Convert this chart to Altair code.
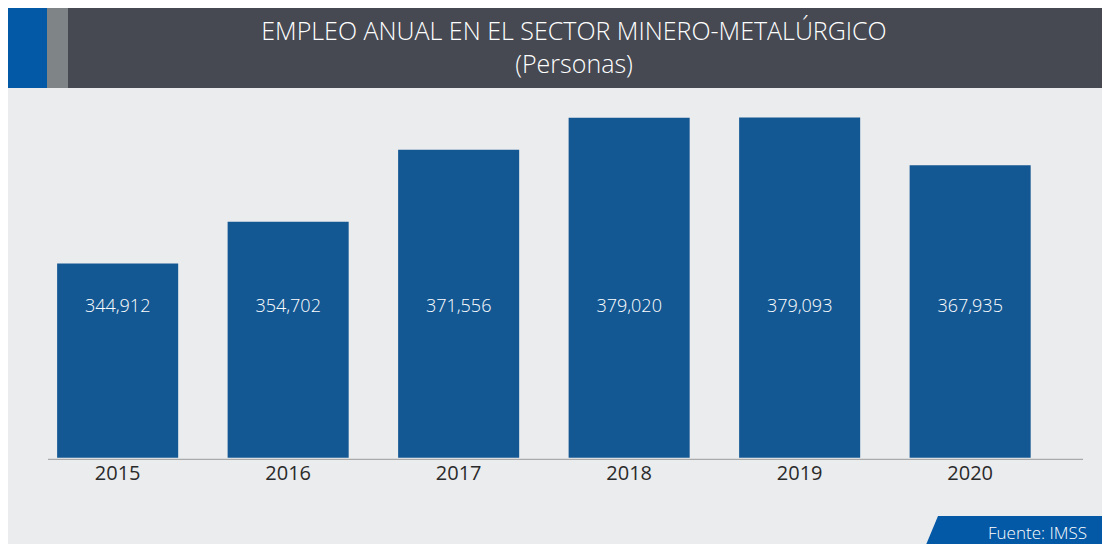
import altair as alt
import pandas as pd

# ---- data ----
years = ["2015", "2016", "2017", "2018", "2019", "2020"]
empleo = [344912, 354702, 371556, 379020, 379093, 367935]
title_line1 = "EMPLEO ANUAL EN EL SECTOR MINERO-METALÚRGICO"
title_line2 = "(Personas)"
source_text = "Fuente: IMSS"
y_base = 299500

df = pd.DataFrame({"year": years, "empleo": empleo})

# ---- styles ----
FONT = "Open Sans"
BG = "#EBECEE"
HEADER = "#464952"
BAR = "#145893"
BLUE = "#0459A6"
GREY_SQ = "#7F8487"

W, H = 1094, 451

xscale = alt.Scale(range=[24.4, 1047.4], paddingInner=0.29, paddingOuter=0.145)
yscale = alt.Scale(domain=[y_base, 380000], range=[449.7, 105.6], zero=False, nice=False)

bars = alt.Chart(df).mark_bar(color=BAR).encode(
    x=alt.X("year:N", scale=xscale, sort=years,
            axis=alt.Axis(title=None, domain=False, ticks=False, labelPadding=4,
                          labelFontSize=20, labelColor="#2A2A2A", labelFont=FONT,
                          labelFontWeight=400, labelAngle=0, zindex=2)),
    y=alt.Y("empleo:Q", scale=yscale, axis=None),
    y2=alt.datum(y_base),
)

values = alt.Chart(df).mark_text(color="white", font=FONT, fontSize=18,
                                 fontWeight=300, baseline="middle").encode(
    x=alt.X("year:N", scale=xscale, sort=years),
    y=alt.value(299),
    text=alt.Text("empleo:Q", format=",d"),
)

one = pd.DataFrame({"t1": [title_line1], "t2": [title_line2], "src": [source_text]})

axis_line = alt.Chart(one).mark_rule(color="#AAAAAA", strokeWidth=1.3).encode(
    x=alt.value(40), x2=alt.value(1075), y=alt.value(451.3)
)

header = alt.Chart(one).mark_rect(color=HEADER).encode(
    x=alt.value(0), x2=alt.value(W), y=alt.value(0), y2=alt.value(80)
)
sq_blue = alt.Chart(one).mark_rect(color=BLUE).encode(
    x=alt.value(0), x2=alt.value(39), y=alt.value(0), y2=alt.value(80)
)
sq_grey = alt.Chart(one).mark_rect(color=GREY_SQ).encode(
    x=alt.value(39), x2=alt.value(60), y=alt.value(0), y2=alt.value(80)
)

t1 = alt.Chart(one).mark_text(color="white", font=FONT, fontSize=25, fontWeight=300,
                              baseline="middle", align="center").encode(
    x=alt.value(566), y=alt.value(24), text="t1:N"
)
t2 = alt.Chart(one).mark_text(color="white", font=FONT, fontSize=25, fontWeight=300,
                              baseline="middle", align="center").encode(
    x=alt.value(566), y=alt.value(57), text="t2:N"
)

src_box = alt.Chart(one).mark_point(
    shape="M-0.70,-0.18 L1.2,-0.18 L1.2,0.18 L-0.85,0.18 Z",
    filled=True, color=BLUE, opacity=1, size=40000, strokeWidth=0,
).encode(x=alt.value(1000), y=alt.value(526))

src_text = alt.Chart(one).mark_text(color="white", font=FONT, fontSize=17, fontWeight=300,
                                    baseline="middle", align="left").encode(
    x=alt.value(980), y=alt.value(526), text="src:N"
)

chart = alt.layer(
    header, sq_blue, sq_grey, t1, t2, bars, values, axis_line, src_box, src_text
).properties(
    width=W, height=H,
    autosize=alt.AutoSizeParams(type="none"),
    padding={"left": 0, "top": 0, "right": 0, "bottom": 85},
    background=BG,
).configure_view(stroke=None)

chart.save("out.html", embed_options={"renderer": "svg", "actions": False})
